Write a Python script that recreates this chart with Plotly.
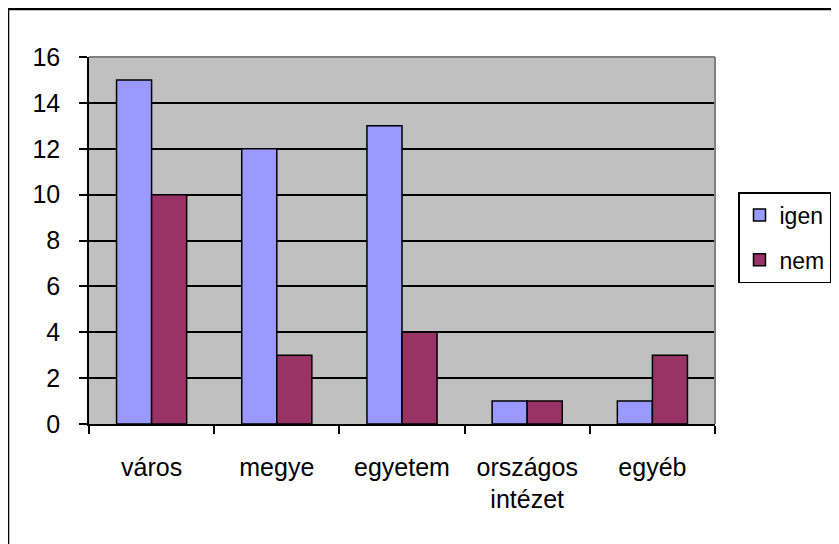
import plotly.graph_objects as go

categories = ["város", "megye", "egyetem", "országos<br>intézet", "egyéb"]
igen = [15, 12, 13, 1, 1]
nem = [10, 3, 4, 1, 3]
y_ticks = [0, 2, 4, 6, 8, 10, 12, 14, 16]

FONT = "Liberation Sans, Arial, sans-serif"
FS = 25

fig = go.Figure()
fig.add_trace(go.Bar(x=categories, y=igen, name="igen", legendgroup="a",
                     marker=dict(color="#9999FF", line=dict(color="black", width=1.5))))
fig.add_trace(go.Bar(x=categories, y=nem, name="nem", legendgroup="b",
                     marker=dict(color="#993366", line=dict(color="black", width=1.5))))

# page has an 8px body margin; figure coords = page coords - 8
OFF = 8
L, R, T, B = 89 - OFF, 715 - OFF, 57 - OFF, 424 - OFF
W, H = 839 - OFF, 544 - OFF
PW, PH = R - L, B - T

def px(x):
    return (x - OFF - L) / PW

def py(y):
    return (B - (y - OFF)) / PH

fig.update_layout(
    width=W, height=H,
    margin=dict(l=L, r=W - R, t=T, b=H - B, autoexpand=False),
    paper_bgcolor="white", plot_bgcolor="#C0C0C0",
    font=dict(family=FONT, size=FS, color="black"),
    barmode="group", bargap=0.44, bargroupgap=0,
    showlegend=True,
    legend=dict(x=px(738), y=py(192), xanchor="left", yanchor="top",
                bgcolor="white", bordercolor="black", borderwidth=1.5,
                font=dict(family=FONT, size=23), traceorder="grouped", tracegroupgap=12),
    xaxis=dict(showgrid=False, ticks="outside", tickson="boundaries", ticklen=8,
               tickwidth=1.5, tickcolor="black", showline=True, linecolor="black",
               linewidth=1.5, ticklabelstandoff=20, tickfont=dict(size=FS)),
    yaxis=dict(range=[0, 16], tickvals=y_ticks, showgrid=True, gridcolor="black",
               gridwidth=1.5, zeroline=False, ticks="outside", ticklen=8, tickwidth=1.5,
               tickcolor="black", showline=True, linecolor="black", linewidth=1.5,
               ticklabelstandoff=14, tickfont=dict(size=FS)),
)

# gray plot border top/right
fig.add_shape(type="line", xref="paper", yref="paper", x0=0, x1=1, y0=1, y1=1,
              line=dict(color="#808080", width=2))
fig.add_shape(type="line", xref="paper", yref="paper", x0=1, x1=1, y0=0, y1=1,
              line=dict(color="#808080", width=2))
# outer chart frame (left and top visible)
fig.add_shape(type="rect", xref="paper", yref="paper",
              x0=px(8), x1=1.4, y0=-0.6, y1=py(9),
              line=dict(color="black", width=2.5), fillcolor="rgba(0,0,0,0)")

fig.write_html("out.html")
